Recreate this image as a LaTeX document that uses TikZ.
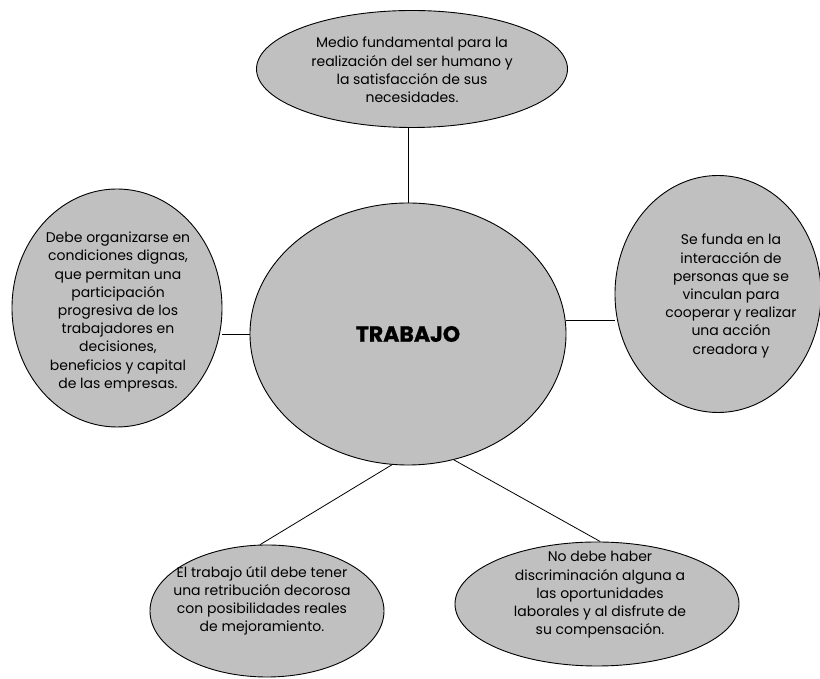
\documentclass[tikz,border=0pt]{standalone}
\usepackage{fontspec}
\setmainfont{Poppins}
\newfontfamily\negra{Poppins}[BoldFeatures={FakeBold=1.2}]
\usetikzlibrary{shapes.geometric}
\definecolor{globo}{HTML}{C0C0C0}
\begin{document}
\begin{tikzpicture}[x=1pt,y=1pt,
  burbuja/.style={ellipse,draw=black,line width=0.9pt,fill=globo,inner sep=0pt},
  texto/.style={align=center,font=\fontsize{14}{18.2}\selectfont,inner sep=0pt}]
\useasboundingbox (0,0) rectangle (820,679);
\node[burbuja,minimum width=316,minimum height=262] (centro) at (408,345) {};
\node[font=\negra\bfseries\fontsize{22}{24}\selectfont] (titulo) at (centro) {TRABAJO};
\node[burbuja,minimum width=311,minimum height=117] (arriba) at (412,610) {};
\node[texto] (tarriba) at (412,609) {Medio fundamental para la\\realización del ser humano y\\la satisfacción de sus\\necesidades.};
\node[burbuja,minimum width=210,minimum height=238] (izq) at (117,371) {};
\node[texto] (tizq) at (118,367) {Debe organizarse en\\condiciones dignas,\\que permitan una\\participación\\progresiva de los\\trabajadores en\\decisiones,\\beneficios y capital\\de las empresas.};
\node[burbuja,minimum width=206,minimum height=237] (der) at (718,385) {};
\node[texto] (tder) at (731,383) {Se funda en la\\interacción de\\personas que se\\vinculan para\\cooperar y realizar\\una acción\\creadora y};
\node[burbuja,minimum width=234,minimum height=132] (abizq) at (267,68) {};
\node[texto] (tabizq) at (262,78) {El trabajo útil debe tener\\una retribución decorosa\\con posibilidades reales\\de mejoramiento.};
\node[burbuja,minimum width=284,minimum height=124] (abder) at (597,75) {};
\node[texto] (tabder) at (600,84) {No debe haber\\discriminación alguna a\\las oportunidades\\laborales y al disfrute de\\su compensación.};
\draw[line width=0.8pt] (arriba.south -| centro) -- (centro.north);
\draw[line width=0.8pt] (centro.west) -- (centro.west -| izq.east);
\draw[line width=0.8pt] (centro.5) -- (centro.5 -| der.west);
\draw[line width=0.8pt] (centro.263) -- (abizq.96);
\draw[line width=0.8pt] (centro.290) -- (abder.87);
\end{tikzpicture}
\end{document}
